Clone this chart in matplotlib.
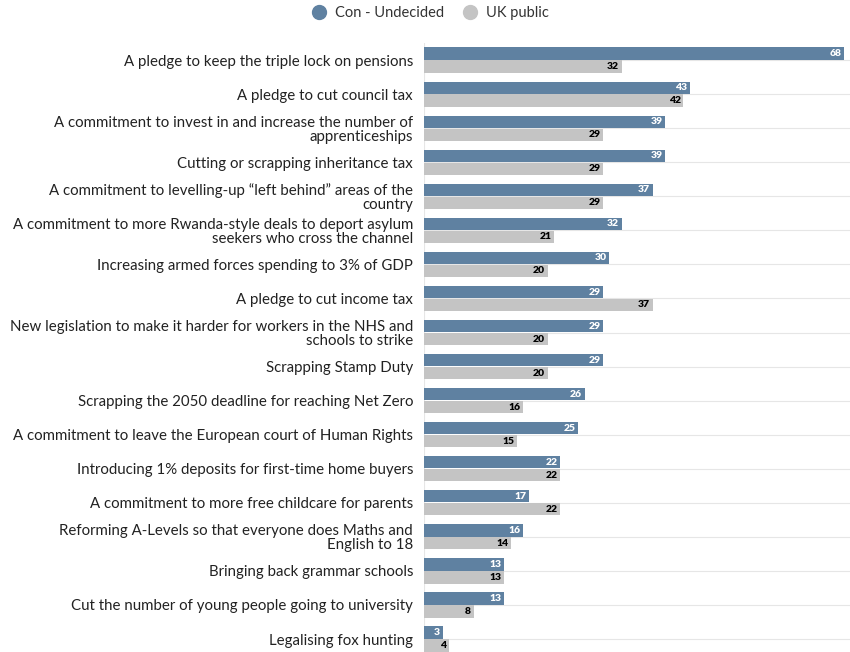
import numpy as np
import matplotlib.pyplot as plt

policies = [
    'A pledge to keep the triple lock on pensions',
    'A pledge to cut council tax',
    'A commitment to invest in and increase the number of\napprenticeships',
    'Cutting or scrapping inheritance tax',
    'A commitment to levelling-up \u201cleft behind\u201d areas of the\ncountry',
    'A commitment to more Rwanda-style deals to deport asylum\nseekers who cross the channel',
    'Increasing armed forces spending to 3% of GDP',
    'A pledge to cut income tax',
    'New legislation to make it harder for workers in the NHS and\nschools to strike',
    'Scrapping Stamp Duty',
    'Scrapping the 2050 deadline for reaching Net Zero',
    'A commitment to leave the European court of Human Rights',
    'Introducing 1% deposits for first-time home buyers',
    'A commitment to more free childcare for parents',
    'Reforming A-Levels so that everyone does Maths and\nEnglish to 18',
    'Bringing back grammar schools',
    'Cut the number of young people going to university',
    'Legalising fox hunting',
]
con_undecided = [68, 43, 39, 39, 37, 32, 30, 29, 29, 29, 26, 25, 22, 17, 16, 13, 13, 3]
uk_public = [32, 42, 29, 29, 29, 21, 20, 37, 20, 20, 16, 15, 22, 22, 14, 13, 8, 4]

blue = '#5f81a1'
grey = '#c4c4c4'

plt.rcParams['font.family'] = ['Lato', 'DejaVu Sans']

fig = plt.figure(figsize=(8.5, 6.52), dpi=100)
ax = fig.add_axes([0.499, 0.0, 0.501, 0.934])

y = np.arange(len(policies))
h = 0.36
off = 0.19

ax.barh(y - off, con_undecided, height=h, color=blue, zorder=3)
ax.barh(y + off, uk_public, height=h, color=grey, zorder=3)

for yi, v in zip(y, con_undecided):
    ax.text(v - 0.4, yi - off, str(v), ha='right', va='center',
            fontsize=7.5, fontweight='heavy', color='white', zorder=4)
for yi, v in zip(y, uk_public):
    ax.text(v - 0.4, yi + off, str(v), ha='right', va='center',
            fontsize=7.5, fontweight='heavy', color='black', zorder=4)

ax.set_xlim(0, 69)
ax.set_ylim(17.38, -0.5)
ax.set_yticks(y)
ax.set_yticklabels(policies, fontsize=10.85, color='#222222', linespacing=1.0)
ax.tick_params(axis='y', length=0, pad=8)
ax.set_xticks([])

ax.grid(axis='y', color='#e6e6e6', linewidth=0.8, zorder=0)
ax.axvline(0, color='#e6e6e6', linewidth=0.8, zorder=1)
for s in ax.spines.values():
    s.set_visible(False)

handles = [
    plt.Line2D([], [], marker='o', linestyle='', markersize=10, color=blue),
    plt.Line2D([], [], marker='o', linestyle='', markersize=10, color=grey),
]
fig.legend(handles, ['Con - Undecided', 'UK public'], loc='center',
           bbox_to_anchor=(0.502, 0.98), ncol=2, frameon=False,
           fontsize=10.5, handletextpad=0.1, columnspacing=0.8,
           labelcolor='#333333')

fig.savefig('out.png', dpi=100)
